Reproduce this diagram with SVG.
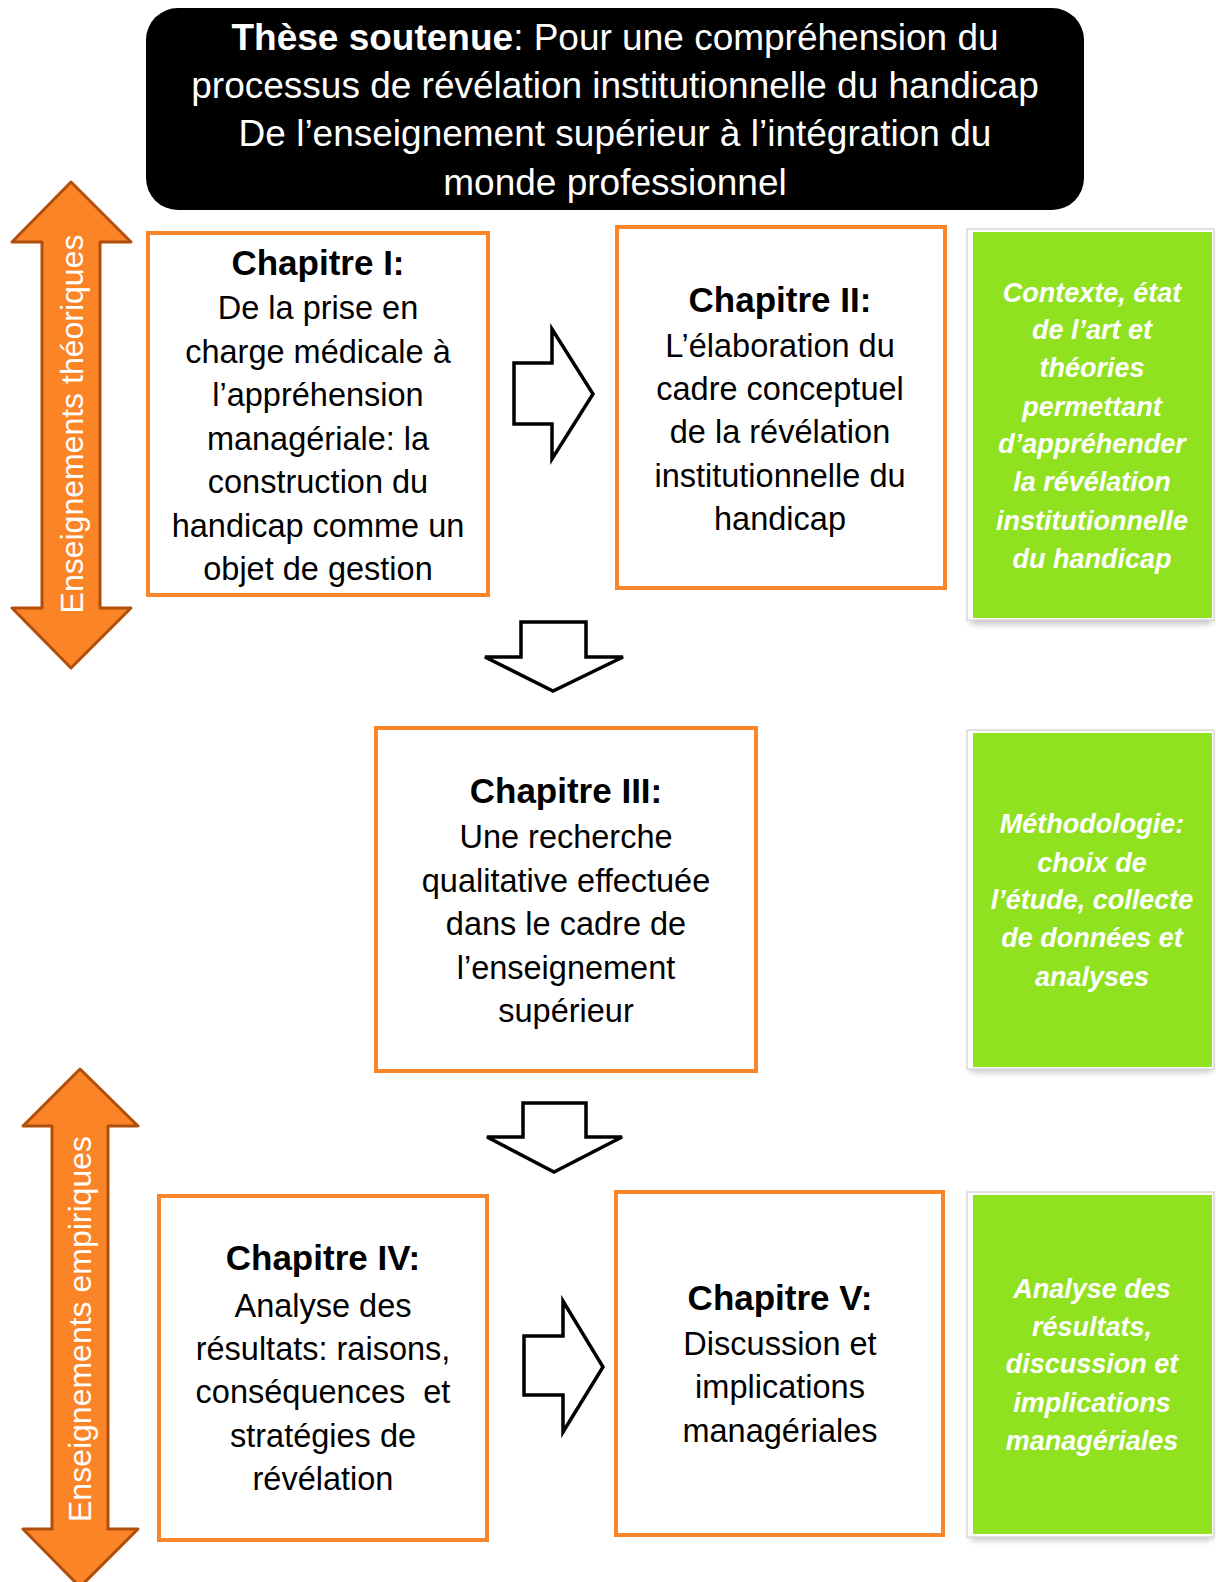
<svg xmlns="http://www.w3.org/2000/svg" width="1216" height="1582" viewBox="0 0 1216 1582">
<defs>
<style>
.t{font-family:"Liberation Sans",Arial,sans-serif;text-anchor:middle}
.hd{font-size:37px;fill:#fff}
.b{font-size:32.5px;fill:#000}
.h{font-size:35px;font-weight:bold;fill:#000}
.g{font-size:27px;font-weight:bold;font-style:italic;fill:#fff}
.side{font-size:32px;fill:#fff}
.ch{fill:#fff;stroke:#F9862A;stroke-width:4}
.gr{fill:#90E11F}
.grb{fill:#fff;stroke:#d8d8d8;stroke-width:1.5}
.dbl{fill:#FB8426;stroke:#B24E0C;stroke-width:3;stroke-linejoin:round}
.hol{fill:#fff;stroke:#000;stroke-width:3.5;stroke-linejoin:miter}
</style>
<filter id="sh" x="-10%" y="-10%" width="130%" height="130%">
<feGaussianBlur stdDeviation="3"/>
</filter>
</defs>
<rect width="1216" height="1582" fill="#fff"/>

<g id="title">
<rect x="146" y="8" width="938" height="202" rx="32" ry="32" fill="#000"/>
<text class="t hd" x="615" y="50"><tspan font-weight="bold">Thèse soutenue</tspan>: Pour une compréhension du</text>
<text class="t hd" x="615" y="98">processus de révélation institutionnelle du handicap</text>
<text class="t hd" x="615" y="146">De l’enseignement supérieur à l’intégration du</text>
<text class="t hd" x="615" y="195">monde professionnel</text>
</g>

<g id="side-theoriques">
<polygon class="dbl" points="71,182 131,242 100,242 100,608 131,608 71,668 12,608 42,608 42,242 12,242"/>
<text class="t side" transform="translate(83,424) rotate(-90)">Enseignements théoriques</text>
</g>

<g id="side-empiriques">
<polygon class="dbl" points="80,1069 138,1126 108,1126 108,1529 138,1529 80,1587 23,1529 52,1529 52,1126 23,1126"/>
<text class="t side" transform="translate(91,1329) rotate(-90)">Enseignements empiriques</text>
</g>

<g id="chap1">
<rect class="ch" x="148" y="233" width="340" height="362"/>
<text class="t h" x="318" y="275">Chapitre I:</text>
<text class="t b" x="318" y="319">De la prise en</text>
<text class="t b" x="318" y="363">charge médicale à</text>
<text class="t b" x="318" y="406">l’appréhension</text>
<text class="t b" x="318" y="450">managériale: la</text>
<text class="t b" x="318" y="493">construction du</text>
<text class="t b" x="318" y="537">handicap comme un</text>
<text class="t b" x="318" y="580">objet de gestion</text>
</g>

<g id="chap2">
<rect class="ch" x="617" y="227" width="328" height="361"/>
<text class="t h" x="780" y="312">Chapitre II:</text>
<text class="t b" x="780" y="357">L’élaboration du</text>
<text class="t b" x="780" y="400">cadre conceptuel</text>
<text class="t b" x="780" y="443">de la révélation</text>
<text class="t b" x="780" y="487">institutionnelle du</text>
<text class="t b" x="780" y="530">handicap</text>
</g>

<g id="green1">
<rect x="970" y="234" width="242" height="390" fill="#9a9a9a" filter="url(#sh)" opacity="0.6"/>
<rect class="grb" x="967" y="229" width="247" height="391"/>
<rect class="gr" x="973" y="232" width="239" height="386"/>
<text class="t g" x="1092" y="302">Contexte, état</text>
<text class="t g" x="1092" y="339">de l’art et</text>
<text class="t g" x="1092" y="377">théories</text>
<text class="t g" x="1092" y="416">permettant</text>
<text class="t g" x="1092" y="453">d’appréhender</text>
<text class="t g" x="1092" y="491">la révélation</text>
<text class="t g" x="1092" y="530">institutionnelle</text>
<text class="t g" x="1092" y="568">du handicap</text>
</g>

<g id="chap3">
<rect class="ch" x="376" y="728" width="380" height="343"/>
<text class="t h" x="566" y="803">Chapitre III:</text>
<text class="t b" x="566" y="848">Une recherche</text>
<text class="t b" x="566" y="892">qualitative effectuée</text>
<text class="t b" x="566" y="935">dans le cadre de</text>
<text class="t b" x="566" y="979">l’enseignement</text>
<text class="t b" x="566" y="1022">supérieur</text>
</g>

<g id="green2">
<rect x="970" y="736" width="242" height="336" fill="#9a9a9a" filter="url(#sh)" opacity="0.6"/>
<rect class="grb" x="967" y="730" width="247" height="339"/>
<rect class="gr" x="973" y="733" width="239" height="334"/>
<text class="t g" x="1092" y="833">Méthodologie:</text>
<text class="t g" x="1092" y="872">choix de</text>
<text class="t g" x="1092" y="909">l’étude, collecte</text>
<text class="t g" x="1092" y="947">de données et</text>
<text class="t g" x="1092" y="986">analyses</text>
</g>

<g id="chap4">
<rect class="ch" x="159" y="1196" width="328" height="344"/>
<text class="t h" x="323" y="1270">Chapitre IV:</text>
<text class="t b" x="323" y="1317">Analyse des</text>
<text class="t b" x="323" y="1360">résultats: raisons,</text>
<text class="t b" x="323" y="1403">conséquences&#160; et</text>
<text class="t b" x="323" y="1447">stratégies de</text>
<text class="t b" x="323" y="1490">révélation</text>
</g>

<g id="chap5">
<rect class="ch" x="616" y="1192" width="327" height="343"/>
<text class="t h" x="780" y="1310">Chapitre V:</text>
<text class="t b" x="780" y="1355">Discussion et</text>
<text class="t b" x="780" y="1398">implications</text>
<text class="t b" x="780" y="1442">managériales</text>
</g>

<g id="green3">
<rect x="970" y="1198" width="242" height="342" fill="#9a9a9a" filter="url(#sh)" opacity="0.6"/>
<rect class="grb" x="967" y="1192" width="247" height="345"/>
<rect class="gr" x="973" y="1195" width="239" height="339"/>
<text class="t g" x="1092" y="1298">Analyse des</text>
<text class="t g" x="1092" y="1336">résultats,</text>
<text class="t g" x="1092" y="1373">discussion et</text>
<text class="t g" x="1092" y="1412">implications</text>
<text class="t g" x="1092" y="1450">managériales</text>
</g>

<g id="connectors">
<polygon class="hol" points="514,363 552,363 552,329 593,394 552,459 552,424 514,424"/>
<polygon class="hol" points="521,622 586,622 586,657 623,657 553,691 485,657 521,657"/>
<polygon class="hol" points="523,1103 586,1103 586,1137 622,1137 554,1172 487,1137 523,1137"/>
<polygon class="hol" points="524,1336 563,1336 563,1301 603,1367 563,1432 563,1395 524,1395"/>
</g>
</svg>
